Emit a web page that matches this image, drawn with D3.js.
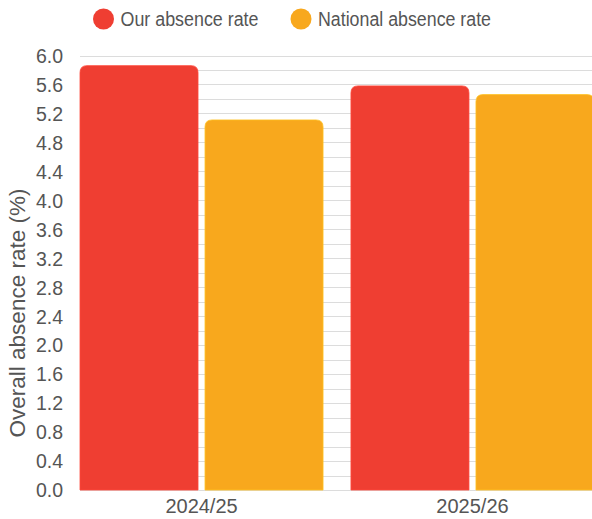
<!DOCTYPE html>
<html>
<head>
<meta charset="utf-8">
<script src="https://cdn.jsdelivr.net/npm/d3@7"></script>
<style>
  html, body { margin: 0; padding: 0; background: #fff; }
  svg { display: block; font-family: "Liberation Sans", Arial, sans-serif; }
</style>
</head>
<body>
<svg id="chart" width="592" height="519"></svg>
<script>
const categories = ["2024/25", "2025/26"];
const seriesNames = ["Our absence rate", "National absence rate"];
const ourRate = [5.86, 5.58];
const nationalRate = [5.11, 5.46];
const yTicks = [0.0, 0.4, 0.8, 1.2, 1.6, 2.0, 2.4, 2.8, 3.2, 3.6, 4.0, 4.4, 4.8, 5.2, 5.6, 6.0];
const colors = ["#ef3e32", "#f8a81d"];

const svg = d3.select("#chart");
const plotLeft = 80, plotRight = 594, plotTop = 55.5, plotBottom = 490;

const y = d3.scaleLinear().domain([0, 6]).range([plotBottom, plotTop]);
const x0 = d3.scaleBand().domain(categories).range([plotLeft, plotRight]).paddingInner(0.103).paddingOuter(0);
const x1 = d3.scaleBand().domain(seriesNames).range([0, x0.bandwidth()]).paddingInner(0.056).paddingOuter(0);

// gridlines every 0.2
const gridVals = d3.range(0, 31).map(i => +(i * 0.2).toFixed(1));
svg.append("g").selectAll("line").data(gridVals).join("line")
  .attr("x1", plotLeft).attr("x2", 592)
  .attr("y1", d => Math.round(y(d)) + 0.5).attr("y2", d => Math.round(y(d)) + 0.5)
  .attr("stroke", "#dcdcdc").attr("stroke-width", 1);

// y axis
const yAxis = d3.axisLeft(y).tickValues(yTicks).tickFormat(d3.format(".1f")).tickSize(0).tickPadding(17);
const yg = svg.append("g").attr("transform", `translate(${plotLeft},0)`).call(yAxis);
yg.select(".domain").remove();
yg.selectAll("text").attr("font-size", 19.5).attr("fill", "#555").attr("dy", "0.35em")
  .style("font-family", "Liberation Sans, Arial, sans-serif");

// x axis
const xAxis = d3.axisBottom(x0).tickSize(0).tickPadding(9);
const xg = svg.append("g").attr("transform", `translate(0,${plotBottom})`).call(xAxis);
xg.select(".domain").remove();
xg.selectAll("text").attr("font-size", 20).attr("fill", "#555")
  .style("font-family", "Liberation Sans, Arial, sans-serif");

// bars with rounded top corners
function barPath(x, yTop, w, yBot, r) {
  r = Math.min(r, w / 2, yBot - yTop);
  return `M${x},${yBot}V${yTop + r}Q${x},${yTop} ${x + r},${yTop}H${x + w - r}Q${x + w},${yTop} ${x + w},${yTop + r}V${yBot}Z`;
}
const rows = categories.map((c, i) => ({ cat: c, vals: [ourRate[i], nationalRate[i]] }));
const groups = svg.append("g").selectAll("g").data(rows).join("g")
  .attr("transform", d => `translate(${x0(d.cat)},0)`);
groups.selectAll("path").data(d => d.vals.map((v, j) => ({ name: seriesNames[j], v, j }))).join("path")
  .attr("d", d => barPath(x1(d.name), y(d.v), x1.bandwidth(), y(0), 7))
  .attr("fill", d => colors[d.j])
  .attr("stroke", d => d3.color(colors[d.j]).brighter(0.4))
  .attr("stroke-width", 0.8);

// y title
svg.append("text")
  .attr("transform", `translate(25,313) rotate(-90)`)
  .attr("text-anchor", "middle")
  .attr("font-size", 22.5).attr("fill", "#555")
  .text("Overall absence rate (%)");

// legend
const legendItems = [{ name: seriesNames[0], cx: 103.5, w: 138 }, { name: seriesNames[1], cx: 301, w: 173 }];
const lg = svg.append("g").selectAll("g").data(legendItems).join("g");
lg.append("circle").attr("cx", d => d.cx).attr("cy", 19).attr("r", 10.5)
  .attr("fill", (d, i) => colors[i]);
lg.append("text").attr("x", d => d.cx + 17).attr("y", 19).attr("dy", "0.35em")
  .attr("font-size", 19.5).attr("fill", "#555")
  .attr("textLength", d => d.w).attr("lengthAdjust", "spacingAndGlyphs")
  .text(d => d.name);
</script>
</body>
</html>
